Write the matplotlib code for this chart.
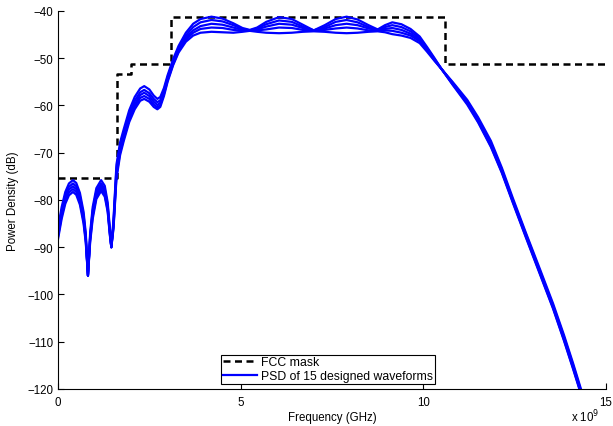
import matplotlib
matplotlib.use("Agg")
import matplotlib.pyplot as plt

# FCC indoor UWB mask (GHz, dB)
mask_f = [0, 1.61, 1.61, 1.99, 1.99, 3.1, 3.1, 10.6, 10.6, 15]
mask_db = [-75.3, -75.3, -53.3, -53.3, -51.3, -51.3, -41.3, -41.3, -51.3, -51.3]

freq = [0, 0.1, 0.2, 0.3, 0.41, 0.5, 0.6, 0.7, 0.76, 0.82,
        0.88, 0.95, 1.05, 1.18, 1.28, 1.36, 1.42, 1.46, 1.52, 1.6,
        1.7, 1.8, 1.95, 2.1, 2.25, 2.36, 2.5, 2.62, 2.72, 2.8,
        2.9, 3.0, 3.15, 3.3, 3.5, 3.7, 3.9, 4.2, 4.5, 4.8,
        5.05, 5.25, 5.45, 5.7, 6.05, 6.4, 6.7, 7.0, 7.3, 7.6,
        7.9, 8.2, 8.5, 8.75, 8.95, 9.15, 9.4, 9.65, 9.9, 10.1,
        10.3, 10.5, 10.8, 11.2, 11.5, 11.85, 12.15, 12.45, 12.8, 13.2,
        13.55, 13.85, 14.1, 14.35]

psd_a = [-86.0, -81.5, -78.3, -76.5, -75.8, -76.4, -78.5, -82.5, -87.0, -96.0,
         -87.0, -81.5, -77.5, -75.8, -77.0, -80.5, -86.0, -90.0, -84.0, -72.5,
         -67.8, -65.0, -61.0, -58.2, -56.4, -55.9, -56.6, -57.9, -58.6, -58.2,
         -56.3, -53.6, -50.2, -47.4, -44.6, -42.7, -41.7, -41.2, -41.6, -42.6,
         -43.6, -44.0, -43.5, -42.3, -41.3, -41.7, -42.9, -44.1, -43.0, -41.7,
         -41.2, -41.8, -43.0, -43.9, -43.0, -42.4, -42.8, -43.8, -45.4, -47.6,
         -49.9, -52.3, -55.0, -58.8, -62.5, -67.5, -73.2, -79.6, -86.8, -94.8,
         -101.9, -108.6, -114.6, -120.9]
psd_b = [-86.6, -82.2, -79.0, -77.2, -76.5, -77.1, -79.2, -83.2, -87.6, -96.0,
         -87.6, -82.2, -78.2, -76.5, -77.7, -81.2, -86.5, -90.0, -84.6, -73.4,
         -68.6, -65.8, -61.8, -59.0, -57.2, -56.7, -57.4, -58.6, -59.3, -58.9,
         -56.8, -54.0, -50.6, -47.8, -45.2, -43.4, -42.4, -41.9, -42.2, -43.0,
         -43.8, -44.1, -43.7, -42.8, -42.0, -42.3, -43.3, -44.1, -43.4, -42.3,
         -41.9, -42.4, -43.4, -44.0, -43.4, -43.0, -43.4, -44.3, -45.8, -47.9,
         -50.1, -52.3, -55.2, -59.1, -62.9, -68.0, -73.6, -80.0, -87.1, -95.2,
         -102.3, -109.0, -115.0, -121.3]
psd_c = [-87.2, -82.8, -79.6, -77.8, -77.1, -77.7, -79.8, -83.8, -88.0, -96.0,
         -88.0, -82.8, -78.8, -77.0, -78.2, -81.7, -86.9, -90.0, -85.2, -74.2,
         -69.3, -66.5, -62.5, -59.7, -57.8, -57.3, -58.0, -59.2, -59.9, -59.4,
         -57.2, -54.4, -51.0, -48.2, -45.7, -44.1, -43.2, -42.7, -42.9, -43.5,
         -44.0, -44.1, -43.9, -43.3, -42.7, -42.9, -43.6, -44.1, -43.7, -43.0,
         -42.7, -43.0, -43.7, -44.0, -43.8, -43.6, -44.0, -44.8, -46.1, -48.1,
         -50.3, -52.3, -55.3, -59.3, -63.1, -68.3, -73.9, -80.2, -87.4, -95.5,
         -102.6, -109.3, -115.3, -121.6]
psd_d = [-87.8, -83.4, -80.2, -78.4, -77.7, -78.3, -80.4, -84.4, -88.5, -96.0,
         -88.5, -83.4, -79.3, -77.6, -78.8, -82.1, -87.2, -90.0, -85.6, -74.9,
         -69.9, -67.0, -63.0, -60.2, -58.4, -58.0, -58.6, -59.8, -60.4, -59.9,
         -57.6, -54.7, -51.3, -48.5, -46.1, -44.6, -43.8, -43.5, -43.6, -44.0,
         -44.2, -44.1, -44.1, -43.9, -43.5, -43.6, -44.0, -44.2, -44.0, -43.7,
         -43.5, -43.7, -44.1, -44.1, -44.1, -44.2, -44.6, -45.2, -46.4, -48.3,
         -50.4, -52.3, -55.5, -59.5, -63.4, -68.6, -74.1, -80.4, -87.6, -95.7,
         -102.8, -109.6, -115.6, -121.8]
psd_e = [-88.3, -84.0, -80.8, -79.0, -78.3, -78.9, -81.0, -85.0, -89.0, -96.0,
         -89.0, -84.0, -79.8, -78.1, -79.3, -82.5, -87.5, -90.0, -86.0, -75.5,
         -70.5, -67.5, -63.5, -60.8, -59.0, -58.6, -59.2, -60.3, -60.8, -60.3,
         -58.0, -55.0, -51.5, -48.8, -46.5, -45.2, -44.6, -44.4, -44.5, -44.6,
         -44.4, -44.2, -44.4, -44.6, -44.7, -44.6, -44.4, -44.3, -44.4, -44.6,
         -44.7, -44.6, -44.4, -44.3, -44.5, -44.9, -45.2, -45.7, -46.8, -48.6,
         -50.5, -52.3, -55.6, -59.8, -63.6, -68.8, -74.3, -80.6, -87.8, -95.9,
         -103.0, -109.8, -115.8, -122.0]

waveforms = [psd_a, psd_b, psd_c, psd_d, psd_e]

plt.rcParams['font.family'] = ['Liberation Sans', 'DejaVu Sans']

fig = plt.figure(figsize=(6.13, 4.27), dpi=100)
ax = fig.add_axes([0.0946, 0.0867, 0.894, 0.8852])

mask_line, = ax.plot(mask_f, mask_db, color='black', linestyle='--',
                     linewidth=1.8, dashes=(2.8, 1.8))
for i, psd in enumerate(waveforms):
    line, = ax.plot(freq, psd, color='blue', linewidth=1.6)
    if i == 0:
        psd_line = line

ax.set_xlim(0, 15)
ax.set_ylim(-120, -40)
ax.set_xticks([0, 5, 10, 15])
ax.set_yticks(range(-120, -39, 10))
ax.tick_params(direction='in', length=4, labelsize=8.3, width=0.8)
ax.tick_params(axis='x', pad=5)
ax.spines['top'].set_visible(False)
ax.spines['right'].set_visible(False)

ax.set_xlabel('Frequency (GHz)', fontsize=8.3, labelpad=2)
ax.set_ylabel('Power Density (dB)', fontsize=8.3, labelpad=6)
fig.text(0.932, 0.004, r'x 10$^{9}$', fontsize=8.3, ha='left', va='bottom')

leg = ax.legend([mask_line, psd_line], ['FCC mask', 'PSD of 15 designed waveforms'],
                loc='lower left', bbox_to_anchor=(0.297, 0.013), borderaxespad=0,
                fontsize=8.8, fancybox=False, framealpha=1, handlelength=2.8,
                borderpad=0.15, labelspacing=0.15, handletextpad=0.35)
leg.get_frame().set_edgecolor('black')
leg.get_frame().set_linewidth(0.8)

fig.savefig('out.png', dpi=100)
